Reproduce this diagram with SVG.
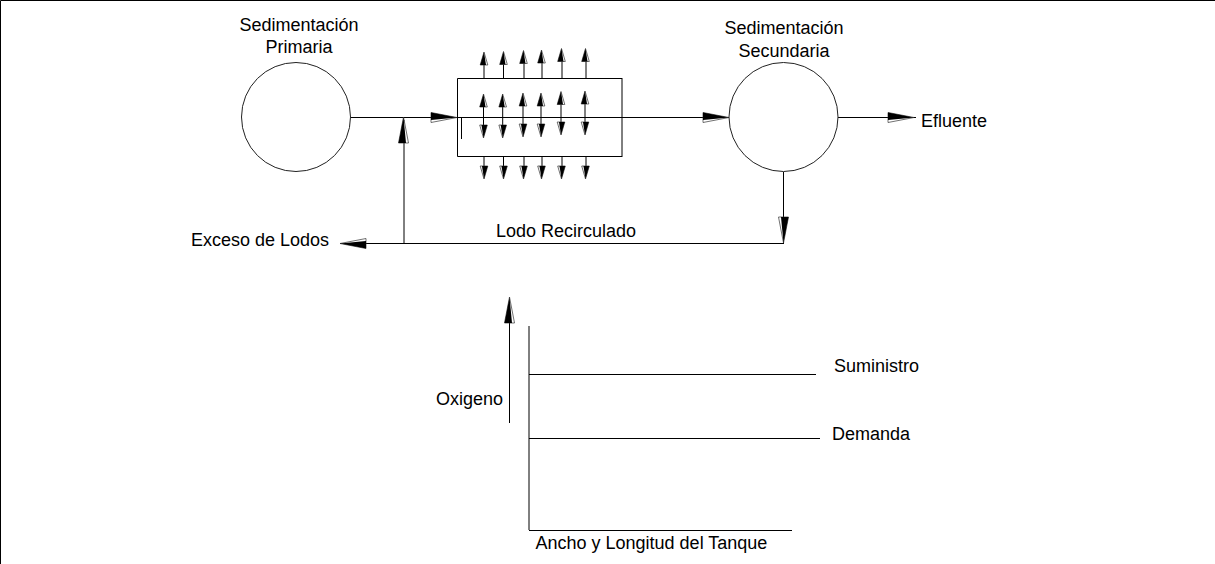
<svg xmlns="http://www.w3.org/2000/svg" width="1215" height="564" viewBox="0 0 1215 564">
<style>
.l{stroke:#000;stroke-width:1;fill:none}
.g{stroke:#000;stroke-width:1;fill:none}
.n{stroke:#222;stroke-width:1;fill:#fff}
text{font-family:"Liberation Sans",Arial,sans-serif;font-size:18px;fill:#000}
.m{text-anchor:middle}
</style>
<defs>
<g id="big"><path d="M0 0L-26-5V5Z" fill="#fff" stroke="#333" stroke-width=".7"/><path d="M0 0L-26-5V2.500Z" fill="#000"/></g>
<g id="sm"><path d="M0 0L-13-3.800V3.800Z" fill="#fff" stroke="#333" stroke-width=".7"/><path d="M0 0L-13-3.800V2Z" fill="#000"/></g>
</defs>
<rect width="1215" height="564" fill="#fff"/>
<path class="l" d="M.5 564V.5H1215" id="frame"/>
<g id="connectors">
<path class="l" d="M351 117.500H730M838 117.500H916M783.500 172V243M404 243.500H784"/>
<path class="g" d="M404 243V120M340 243.500H404"/>
<path class="l" d="M461.500 117V139"/>
<use href="#big" x="457" y="117.500"/>
<use href="#big" x="729" y="117.500"/>
<use href="#big" x="914" y="117.500"/>
<use href="#big" transform="translate(783.500 243) rotate(90)"/>
<use href="#big" transform="translate(340 243.500) rotate(180)"/>
<use href="#big" transform="translate(403.500 117) rotate(-90)"/>
<g id="up-out">
<path class="g" d="M484 78V60M503.500 78V60M524 78V60M542 78V60M562 78V58M586 78V58"/>
<use href="#sm" transform="translate(484 52) rotate(-90)"/>
<use href="#sm" transform="translate(503.500 51.500) rotate(-90)"/>
<use href="#sm" transform="translate(523.500 50.500) rotate(-90)"/>
<use href="#sm" transform="translate(541.500 50) rotate(-90)"/>
<use href="#sm" transform="translate(561.500 48.500) rotate(-90)"/>
<use href="#sm" transform="translate(585.500 48.500) rotate(-90)"/>
</g>
<g id="inner">
<path class="l" d="M483.500 104V128M502.700 104V128M523 104V128M541 104V128M561 102V126M585 102V126"/>
<use href="#sm" transform="translate(483.500 94) rotate(-90)"/>
<use href="#sm" transform="translate(502.700 94) rotate(-90)"/>
<use href="#sm" transform="translate(523 93) rotate(-90)"/>
<use href="#sm" transform="translate(541 93) rotate(-90)"/>
<use href="#sm" transform="translate(561 91.500) rotate(-90)"/>
<use href="#sm" transform="translate(585 91) rotate(-90)"/>
<use href="#sm" transform="translate(483.500 138) rotate(90)"/>
<use href="#sm" transform="translate(502.700 138) rotate(90)"/>
<use href="#sm" transform="translate(523 137) rotate(90)"/>
<use href="#sm" transform="translate(541 137) rotate(90)"/>
<use href="#sm" transform="translate(561 135) rotate(90)"/>
<use href="#sm" transform="translate(585 135) rotate(90)"/>
</g>
<g id="down-out">
<path class="g" d="M484 156V170M503.500 156V170M524 156V170M542 156V170M562 156V170M586 156V170"/>
<use href="#sm" transform="translate(484 179) rotate(90)"/>
<use href="#sm" transform="translate(503.500 179) rotate(90)"/>
<use href="#sm" transform="translate(523.500 179) rotate(90)"/>
<use href="#sm" transform="translate(541.500 179) rotate(90)"/>
<use href="#sm" transform="translate(561.500 179) rotate(90)"/>
<use href="#sm" transform="translate(585.500 179) rotate(90)"/>
</g>
<path class="l" d="M509.500 423V322"/>
<use href="#big" transform="translate(509.500 297) rotate(-90)"/>
</g>
<g id="primary"><circle class="n" cx="296" cy="117" r="54.500"/><text class="m" x="299" y="31">Sedimentación</text><text class="m" x="299" y="52.500">Primaria</text></g>
<g id="tank"><path class="l" d="M457.500 78.500H622M457.500 78.500V156.500H622"/><path class="g" d="M622 78V157"/></g>
<g id="secondary"><circle class="n" cx="783.500" cy="117" r="54.500"/><text class="m" x="784" y="34">Sedimentación</text><text class="m" x="784" y="56.500">Secundaria</text></g>
<g id="chart">
<path class="g" d="M529 326V530"/>
<path class="l" d="M529 530.500H792M529 374.500H816M529 438.500H820"/>
</g>
<text x="921" y="126.500">Efluente</text>
<text x="191" y="246">Exceso de Lodos</text>
<text x="496" y="236.500">Lodo Recirculado</text>
<text x="834" y="372">Suministro</text>
<text x="832" y="440">Demanda</text>
<text x="436" y="405">Oxigeno</text>
<text x="535.500" y="548.500">Ancho y Longitud del Tanque</text>
</svg>
